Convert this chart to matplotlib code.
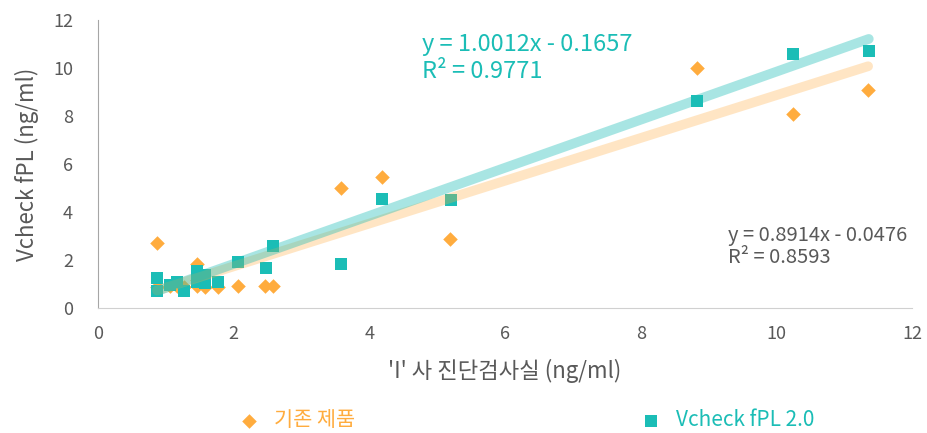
import numpy as np
import matplotlib.pyplot as plt

plt.rcParams['font.family'] = ['Noto Sans CJK KR', 'DejaVu Sans']

# 기존 제품 (orange diamonds)
old_x = [0.87, 1.06, 1.16, 1.27, 1.46, 1.46, 1.58, 1.77, 2.07, 2.46, 2.58, 0.87, 1.46,
         3.58, 4.19, 5.19, 8.83, 10.24, 11.35]
old_y = [0.88, 0.9, 0.9, 0.88, 0.9, 1.82, 0.88, 0.88, 0.9, 0.9, 0.9, 2.7, 1.15,
         5.0, 5.46, 2.88, 9.99, 8.07, 9.08]

# Vcheck fPL 2.0 (teal squares)
new_x = [0.87, 0.87, 1.06, 1.16, 1.27, 1.46, 1.46, 1.58, 1.58, 1.77, 2.07, 2.48, 2.58,
         3.58, 4.19, 5.2, 8.83, 10.24, 11.36]
new_y = [1.26, 0.72, 0.96, 1.1, 0.72, 1.55, 1.1, 1.38, 1.04, 1.1, 1.93, 1.68, 2.58,
         1.83, 4.54, 4.5, 8.64, 10.6, 10.72]

old_fit = (0.8914, -0.0476, 0.8593)
new_fit = (1.0012, -0.1657, 0.9771)

orange = '#FFAC3E'
teal = '#1BBDB6'
grey = '#595959'

fig = plt.figure(figsize=(9.28, 4.33), dpi=100)
ax = fig.add_axes([0.1056, 0.2887, 0.8774, 0.6653])

ax.scatter(old_x, old_y, marker='D', s=55, color=orange, zorder=3, label='기존 제품', linewidths=0)
ax.scatter(new_x, new_y, marker='s', s=70, color=teal, zorder=3, label='Vcheck fPL 2.0', linewidths=0)

# trendlines (선형 추세선)
xs = np.array([min(old_x), max(old_x)])
ax.plot(xs, old_fit[0] * xs + old_fit[1], color=orange, alpha=0.3, lw=7,
        solid_capstyle='round', zorder=4)
xs = np.array([min(new_x), max(new_x)])
ax.plot(xs, new_fit[0] * xs + new_fit[1], color=teal, alpha=0.38, lw=7,
        solid_capstyle='round', zorder=5)

ax.text(4.78, 11.45, 'y = 1.0012x - 0.1657\nR² = 0.9771', color=teal, fontsize=17,
        va='top', ha='left', linespacing=1.2)
ax.text(9.29, 3.45, 'y = 0.8914x - 0.0476\nR² = 0.8593', color=grey, fontsize=14.5,
        va='top', ha='left', linespacing=1.05)

ax.set_xlim(0, 12)
ax.set_ylim(0, 12)
ax.set_xticks(range(0, 13, 2))
ax.set_yticks(range(0, 13, 2))
ax.tick_params(length=0, labelsize=13, labelcolor=grey)
ax.tick_params(axis='x', pad=12)
ax.tick_params(axis='y', pad=18)
for s in ['top', 'right']:
    ax.spines[s].set_visible(False)
ax.spines['left'].set_color('#A6A6A6')
ax.spines['bottom'].set_color('#D0D0D0')

ax.set_xlabel("'I' 사 진단검사실 (ng/ml)", fontsize=16, color=grey, labelpad=12)
ax.set_ylabel('Vcheck fPL (ng/ml)', fontsize=16, color=grey, labelpad=10)

leg = fig.legend(loc='center', bbox_to_anchor=(0.562, 0.03), ncol=2, frameon=False,
                 fontsize=15, columnspacing=13.2, handletextpad=0.2,
                 labelcolor=[orange, teal])

fig.savefig('out.png', dpi=100)
